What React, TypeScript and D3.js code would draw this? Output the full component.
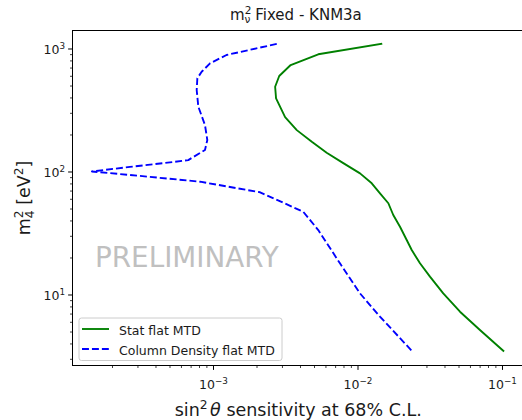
import React from "react";
import * as d3 from "d3";

// Stat flat MTD sensitivity contour: sin^2(theta) vs m4^2 [eV^2]
const statSin2: number[] = [
  0.0145, 0.00531, 0.00342, 0.00285, 0.00267, 0.00271, 0.00313, 0.00377,
  0.00479, 0.00607, 0.00791, 0.01033, 0.01245, 0.0142, 0.01622, 0.01754,
  0.01953, 0.02173, 0.02354, 0.02685, 0.03148, 0.0389, 0.0508, 0.0698, 0.1014,
];
const statM4: number[] = [
  1100, 906, 741, 603, 493, 397, 279, 219, 176, 143.6, 118, 97.5, 80.9, 67.1,
  55.7, 44.7, 35.9, 28.0, 23.2, 18.1, 14.1, 10.3, 7.31, 5.19, 3.51,
];

// Column Density flat MTD sensitivity contour
const colSin2: number[] = [
  0.00274, 0.00123, 0.000946, 0.000828, 0.000773, 0.000765, 0.000785,
  0.000873, 0.000906, 0.000873, 0.000669, 0.00045, 0.000264, 0.000144,
  0.000264, 0.000807, 0.0021, 0.00418, 0.00531, 0.0075, 0.01033, 0.01419,
  0.02355,
];
const colM4: number[] = [
  1100, 894, 765, 653, 578, 464, 340, 241, 182, 151, 125, 118, 110, 101, 94.6,
  83.4, 68.4, 47.5, 33.7, 18.1, 10.3, 6.67, 3.52,
];

const xMajorExp: string[] = ["−3", "−2", "−1"];
const yMajorExp: string[] = ["1", "2", "3"];
const legendLabels: string[] = ["Stat flat MTD", "Column Density flat MTD"];

const W = 522;
const H = 420;
const left = 72.5;
const right = 524;
const top = 30.5;
const bottom = 365.5;

const FONT = "DejaVu Sans, sans-serif";
const TXT = "#1a1a1a";

export default function App() {
  const x = d3
    .scaleLog()
    .domain([Math.pow(10, -3.9758), Math.pow(10, -0.8512)])
    .range([left, right]);
  const y = d3
    .scaleLog()
    .domain([Math.pow(10, 0.4268), Math.pow(10, 3.1504)])
    .range([bottom, top]);

  const line = d3
    .line<[number, number]>()
    .x((d) => x(d[0]))
    .y((d) => y(d[1]));

  const statPts = statSin2.map((v, i) => [v, statM4[i]] as [number, number]);
  const colPts = colSin2.map((v, i) => [v, colM4[i]] as [number, number]);

  const [x0, x1] = x.domain();
  const [y0, y1] = y.domain();
  const isMajor = (v: number) =>
    Math.abs(Math.log10(v) - Math.round(Math.log10(v))) < 1e-9;
  const xTicks = x.ticks().filter((t) => t >= x0 && t <= x1);
  const yTicks = y.ticks().filter((t) => t >= y0 && t <= y1);

  const lw = 1.875;

  return (
    <svg
      width={W}
      height={H}
      style={{ position: "fixed", left: 0, top: 0, background: "#fff" }}
      fontFamily={FONT}
    >
      <defs>
        <clipPath id="plot-clip">
          <rect x={left} y={top} width={right - left} height={bottom - top} />
        </clipPath>
      </defs>

      {/* watermark */}
      <text x={95} y={267} fontSize={27.8} fill="#c0c0c0" fontFamily={FONT}>
        PRELIMINARY
      </text>

      <g clipPath="url(#plot-clip)">
        <path
          d={line(statPts) ?? ""}
          fill="none"
          stroke="#008000"
          strokeWidth={lw}
          strokeLinejoin="round"
          strokeLinecap="square"
        />
        <path
          d={line(colPts) ?? ""}
          fill="none"
          stroke="#0000ff"
          strokeWidth={lw}
          strokeDasharray={`${3.7 * lw} ${1.6 * lw}`}
          strokeLinejoin="round"
        />
      </g>

      {/* frame */}
      <rect
        x={left}
        y={top}
        width={right - left}
        height={bottom - top}
        fill="none"
        stroke="#000"
        strokeWidth={1}
      />

      {/* x ticks */}
      {xTicks.map((t, i) => (
        <line
          key={`xt${i}`}
          x1={x(t)}
          x2={x(t)}
          y1={bottom}
          y2={bottom + (isMajor(t) ? 4.4 : 2.5)}
          stroke="#000"
          strokeWidth={isMajor(t) ? 1 : 0.75}
        />
      ))}
      {xTicks.filter(isMajor).map((t, i) => (
        <text
          key={`xl${i}`}
          x={x(t)}
          y={389}
          fontSize={12.5}
          fill={TXT}
          textAnchor="middle"
        >
          10
          <tspan fontSize={8.8} dy={-5}>
            {xMajorExp[i]}
          </tspan>
        </text>
      ))}

      {/* y ticks */}
      {yTicks.map((t, i) => (
        <line
          key={`yt${i}`}
          x1={left}
          x2={left - (isMajor(t) ? 4.4 : 2.5)}
          y1={y(t)}
          y2={y(t)}
          stroke="#000"
          strokeWidth={isMajor(t) ? 1 : 0.75}
        />
      ))}
      {yTicks.filter(isMajor).map((t, i) => (
        <text
          key={`yl${i}`}
          x={65}
          y={y(t) + 5.5}
          fontSize={12.5}
          fill={TXT}
          textAnchor="end"
        >
          10
          <tspan fontSize={8.8} dy={-5}>
            {yMajorExp[i]}
          </tspan>
        </text>
      ))}

      {/* title */}
      <text x={230} y={20} fontSize={15} fill={TXT}>
        m
        <tspan fontSize={10.5} dy={-6}>
          2
        </tspan>
        <tspan fontSize={10.5} dx={-6.7} dy={9}>
          ν
        </tspan>
        <tspan fontSize={15} dy={-3}>
          {" Fixed - KNM3a"}
        </tspan>
      </text>

      {/* x axis label */}
      <text
        x={(left + right) / 2}
        y={416}
        fontSize={17.5}
        fill={TXT}
        textAnchor="middle"
      >
        sin
        <tspan fontSize={12.3} dy={-7}>
          2
        </tspan>
        <tspan fontStyle="italic" dx={2.5} dy={7}>
          {"θ"}
        </tspan>
        {" sensitivity at 68% C.L."}
      </text>

      {/* y axis label */}
      <text
        transform={`translate(30,${(top + bottom) / 2}) rotate(-90)`}
        fontSize={17.5}
        fill={TXT}
        textAnchor="middle"
      >
        m
        <tspan fontSize={12.3} dy={-7}>
          2
        </tspan>
        <tspan fontSize={12.3} dx={-7.8} dy={11}>
          4
        </tspan>
        <tspan dy={-4}>{" [eV"}</tspan>
        <tspan fontSize={12.3} dy={-7}>
          2
        </tspan>
        <tspan dy={7}>]</tspan>
      </text>

      {/* legend */}
      <g>
        <rect
          x={79}
          y={318}
          width={203}
          height={42.5}
          rx={2.5}
          fill="#fff"
          fillOpacity={0.8}
          stroke="#cccccc"
          strokeWidth={1}
        />
        <line
          x1={82}
          x2={109}
          y1={329}
          y2={329}
          stroke="#008000"
          strokeWidth={lw}
        />
        <line
          x1={82}
          x2={109}
          y1={349}
          y2={349}
          stroke="#0000ff"
          strokeWidth={lw}
          strokeDasharray={`${3.7 * lw} ${1.6 * lw}`}
        />
        <text x={119} y={334.5} fontSize={12.5} fill={TXT}>
          {legendLabels[0]}
        </text>
        <text x={119} y={354.5} fontSize={12.5} fill={TXT}>
          {legendLabels[1]}
        </text>
      </g>
    </svg>
  );
}
